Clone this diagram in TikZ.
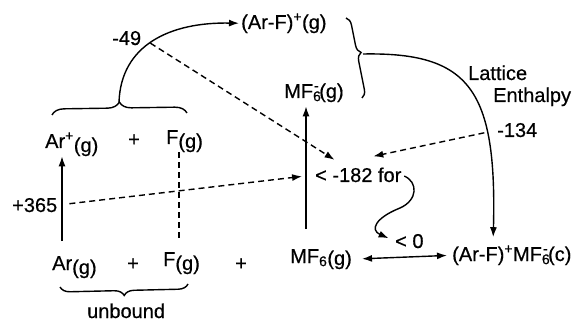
\documentclass[tikz,border=0pt]{standalone}
\usepackage{fontspec}
\setmainfont{Liberation Sans}[FakeBold=0.5]
\usepackage{tikz}
\usetikzlibrary{arrows.meta,positioning,calc,decorations.pathreplacing}

\newcommand{\gsub}[1]{\raisebox{-4pt}{#1}}
\newcommand{\subsup}[2]{\rlap{\textsubscript{#1}}\kern1pt\textsuperscript{#2}}

\begin{document}
\begin{tikzpicture}[
  x=1pt,
  y=-1pt,
  font=\fontsize{20}{24}\selectfont,
  >={Latex[length=10pt,width=7pt]},
  lbl/.style={anchor=base west, inner sep=0pt},
  flow/.style={->, line width=1.4pt},
  both/.style={<->, line width=1.4pt},
  link/.style={->, line width=1.4pt, dash pattern=on 6pt off 4pt},
  guide/.style={line width=1.3pt, dash pattern=on 6pt off 4pt},
  brc/.style={line width=1.4pt, decorate, decoration={brace, amplitude=12pt}}
]
\useasboundingbox (0,0) rectangle (583,323);

% species
\node[lbl] (arfg) at (241,29) {(Ar-F)\textsuperscript{+}(g)};
\node[lbl] (mfm) at (284,98) {MF\subsup{6}{-}(g)};
\node[lbl] (arpg) at (45,148) {Ar\textsuperscript{+}\gsub{(g)}};
\node[lbl] (pl1) at (128,146) {+};
\node[lbl] (fpg) at (166,144) {F\gsub{(g)}};
\node[lbl] (arg) at (52,270) {Ar\gsub{(g)}};
\node[lbl] (pl2) at (127,270) {+};
\node[lbl] (fg) at (163,266) {F\gsub{(g)}};
\node[lbl] (pl3) at (235,270) {+};
\node[lbl] (mf6) at (290,263) {MF\textsubscript{6}\raisebox{-2pt}{(g)}};
\node[lbl] (salt) at (452,261) {(Ar-F)\textsuperscript{+}MF\subsup{6}{-}(c)};

% values
\node[lbl] (m49) at (112,45) {-49};
\node[lbl] (lat) at (468,80) {Lattice};
\node[lbl] (enth) at (493,102) {Enthalpy};
\node[lbl] (m134) at (497,137) {-134};
\node[lbl] (p365) at (12,212) {+365};
\node[lbl] (m182) at (315,182) {< -182 for};
\node[lbl] (lt0) at (395,248) {< 0};
\node[lbl] (unb) at (87,318) {unbound};

% braces
\draw[brc] (52,115) -- (187,113);
\coordinate (tb) at (119,102);
\draw[brc, decoration={amplitude=8pt, aspect=0.45}] (346,18) -- (362,98);
\coordinate (rb) at (363,54);
\draw[brc, decoration={amplitude=10pt}] (188,284) -- (60,287);

\draw[flow, shorten >=2pt] (tb) .. controls (121,45) and (170,22) .. (arfg.west)
  coordinate[pos=0.47] (k49);
\draw[flow, shorten >=8pt] (rb) .. controls (470,52) and (497,90) .. ([xshift=41pt]salt.north west);
\draw[flow, shorten <=15pt] ([xshift=10pt]arg.north west) -- ([xshift=17pt]arpg.south west);
\draw[flow, shorten <=20pt, shorten >=4pt] ([xshift=16pt]mf6.north west) -- ([xshift=22pt]mfm.south west);
\draw[both, shorten <=10pt, shorten >=5pt] (mf6.east) -- (salt.west);
\draw[guide, shorten >=12pt] ([xshift=13pt]fpg.south west) -- ([xshift=16pt]fg.north west);

\draw[link, shorten >=14pt] (k49) -- (m182);
\draw[link, shorten <=13pt] (m134.west) -- ($(m182.north)+(15,-11)$);
\draw[link, shorten <=12pt, shorten >=13pt] (p365.east) -- (m182.west);

\draw[flow, shorten <=3pt, shorten >=7pt] (m182.east) .. controls (418,182) and (418,200) .. (400,208)
  .. controls (375,218) and (370,230) .. (lt0.west);

\end{tikzpicture}
\end{document}
